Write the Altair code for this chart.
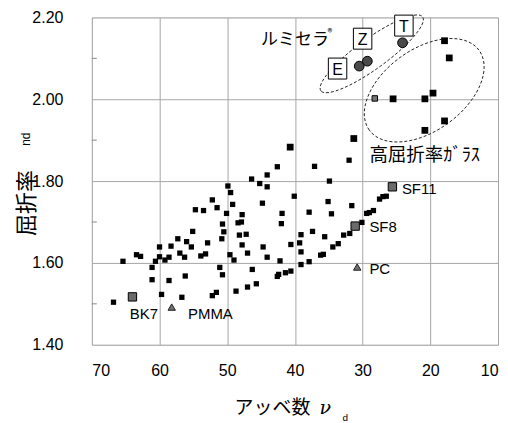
import altair as alt
import pandas as pd

# ---- data ----
# ordinary optical glasses (small black squares)
glass_x = [46.4, 44.1, 45.2, 44.1, 49.9, 49.5, 40.1, 52.2, 49.2, 44.8, 51.5, 54.7, 53.5, 50.1,
           47.8, 41.9, 48.4, 47.9, 50.7, 42.0, 50.5, 55.1, 48.2, 47.2, 57.3, 50.8, 56.0, 52.9,
           58.3, 60.0, 55.3, 47.8, 40.6, 57.0, 44.7, 47.0, 56.3, 53.9, 53.2, 63.4, 62.8, 60.0,
           58.6, 59.2, 49.6, 49.0, 44.1, 42.2, 65.4, 60.6, 61.1, 51.1, 46.3, 50.7, 56.2, 61.1,
           58.6, 42.4, 42.6, 41.4, 40.6, 45.7, 47.0, 48.7, 51.6, 52.2, 56.7, 59.7, 66.8,
           34.9, 35.1, 31.6, 37.9, 34.6, 39.1, 37.4, 35.6, 39.3, 39.1, 39.1, 37.9, 36.2, 35.8,
           34.4, 33.6, 32.8, 31.9, 30.1, 29.4, 29.0, 28.4, 27.5, 27.0, 26.5,
           32.0, 37.1, 42.6]
glass_y = [1.805, 1.815, 1.794, 1.786, 1.788, 1.772, 1.763, 1.754, 1.743, 1.746, 1.735, 1.730, 1.728, 1.721,
           1.718, 1.721, 1.698, 1.700, 1.695, 1.696, 1.676, 1.677, 1.668, 1.670, 1.659, 1.659, 1.652, 1.649,
           1.641, 1.639, 1.639, 1.644, 1.645, 1.624, 1.639, 1.624, 1.614, 1.617, 1.622, 1.620, 1.616, 1.615,
           1.614, 1.607, 1.620, 1.607, 1.614, 1.605, 1.604, 1.604, 1.589, 1.589, 1.584, 1.571, 1.568, 1.559,
           1.557, 1.572, 1.567, 1.576, 1.580, 1.549, 1.541, 1.531, 1.528, 1.520, 1.516, 1.523, 1.504,
           1.800, 1.750, 1.740, 1.724, 1.720, 1.669, 1.677, 1.664, 1.649, 1.627, 1.596, 1.603, 1.619, 1.621,
           1.639, 1.647, 1.668, 1.672, 1.699, 1.721, 1.723, 1.728, 1.756, 1.762, 1.763,
           1.851, 1.836, 1.835]

# high index glasses (larger black squares)
high_x = [40.7, 31.3, 25.5, 20.8, 19.6, 17.9, 17.2, 17.9, 20.8]
high_y = [1.883, 1.904, 2.001, 2.001, 2.015, 2.143, 2.101, 1.947, 1.924]

# small hatched glass inside the ellipse
hgray_x = [28.2]
hgray_y = [2.002]

# reference glasses (hatched squares)
ref_names = ["BK7", "SF8", "SF11"]
ref_x = [64.0, 31.1, 25.6]
ref_y = [1.517, 1.690, 1.786]
ref_label_x = [64.4, 29.0, 24.2]
ref_label_y = [1.475, 1.687, 1.780]

# plastics (triangles)
pl_names = ["PMMA", "PC"]
pl_x = [58.2, 30.8]
pl_y = [1.492, 1.590]
pl_label_x = [55.8, 29.0]
pl_label_y = [1.475, 1.585]

# Lumicera ceramics (circles) and their boxed labels
lum_names = ["E", "Z", "T"]
lum_x = [30.5, 29.3, 24.1]
lum_y = [2.081, 2.093, 2.138]
lum_box_x = [33.7, 30.0, 23.9]
lum_box_y = [2.075, 2.148, 2.180]

# annotation ellipses: centres
ell_x = [28.65, 20.9]
ell_y = [2.111, 2.022]

x_ticks = [70, 60, 50, 40, 30, 20, 10]
y_ticks = [1.40, 1.60, 1.80, 2.00, 2.20]
minor_y = [1.50, 1.70, 1.90, 2.10]

JP = "Noto Sans CJK JP"
LAT = "Liberation Sans"

xs = alt.Scale(domain=[70, 10], nice=False)
ys = alt.Scale(domain=[1.4, 2.2], nice=False)

x_axis = alt.Axis(values=x_ticks, grid=True, ticks=False, domain=False,
                  labelPadding=18, labelFontSize=16, labelFont=LAT, labelColor="black",
                  gridColor="#a6a6a6", gridWidth=1)
y_axis = alt.Axis(values=y_ticks, format=".2f", grid=True, ticks=False, domain=False,
                  labelPadding=29, labelFontSize=16, labelFont=LAT, labelColor="black",
                  gridColor="#a6a6a6", gridWidth=1)


def X(field="x"):
    return alt.X(f"{field}:Q", scale=xs, axis=x_axis, title=None)


def Y(field="y"):
    return alt.Y(f"{field}:Q", scale=ys, axis=y_axis, title=None)


minor = alt.Chart(pd.DataFrame({"y": minor_y})).mark_rule(color="#888", strokeWidth=1).encode(
    y=Y(), x=alt.value(0), x2=alt.value(5))

ellipse_path_lum = "M -1 0 A 1 0.24 0 1 1 1 0 A 1 0.24 0 1 1 -1 0 Z"
ellipse_path_gl = "M -1 0 A 1 0.6 0 1 1 1 0 A 1 0.6 0 1 1 -1 0 Z"

ell1 = alt.Chart(pd.DataFrame({"x": ell_x[:1], "y": ell_y[:1]})).mark_point(
    shape=ellipse_path_lum, size=126 * 126, angle=324, filled=False, color="#222",
    strokeWidth=0.9, strokeDash=[3, 2], opacity=1).encode(x=X(), y=Y())
ell2 = alt.Chart(pd.DataFrame({"x": ell_x[1:], "y": ell_y[1:]})).mark_point(
    shape=ellipse_path_gl, size=136 * 136, angle=324, filled=False, color="#222",
    strokeWidth=0.9, strokeDash=[3, 2], opacity=1).encode(x=X(), y=Y())

glass = alt.Chart(pd.DataFrame({"x": glass_x, "y": glass_y})).mark_point(
    shape="square", size=28, filled=True, color="black", opacity=1).encode(x=X(), y=Y())
high = alt.Chart(pd.DataFrame({"x": high_x, "y": high_y})).mark_point(
    shape="square", size=46, filled=True, color="black", opacity=1).encode(x=X(), y=Y())
hgray = alt.Chart(pd.DataFrame({"x": hgray_x, "y": hgray_y})).mark_point(
    shape="square", size=30, filled=True, fill="#777", stroke="black", strokeWidth=1,
    opacity=1).encode(x=X(), y=Y())

ref = alt.Chart(pd.DataFrame({"x": ref_x, "y": ref_y})).mark_point(
    shape="square", size=70, filled=True, fill="#6a6a6a", stroke="black", strokeWidth=1,
    opacity=1).encode(x=X(), y=Y())
ref_lab = alt.Chart(pd.DataFrame({"x": ref_label_x, "y": ref_label_y, "t": ref_names})).mark_text(
    align="left", baseline="middle", font=LAT, fontSize=15, color="black").encode(
    x=X(), y=Y(), text="t:N")

pl = alt.Chart(pd.DataFrame({"x": pl_x, "y": pl_y})).mark_point(
    shape="triangle-up", size=55, filled=True, fill="#707070", stroke="#222", strokeWidth=1,
    opacity=1).encode(x=X(), y=Y())
pl_lab = alt.Chart(pd.DataFrame({"x": pl_label_x, "y": pl_label_y, "t": pl_names})).mark_text(
    align="left", baseline="middle", font=LAT, fontSize=15, color="black").encode(
    x=X(), y=Y(), text="t:N")

lum = alt.Chart(pd.DataFrame({"x": lum_x, "y": lum_y})).mark_point(
    shape="circle", size=95, filled=True, fill="#4a4a4a", stroke="black", strokeWidth=1,
    opacity=1).encode(x=X(), y=Y())
lum_box = alt.Chart(pd.DataFrame({"x": lum_box_x, "y": lum_box_y})).mark_point(
    shape="M -0.88 -1 L 0.88 -1 L 0.88 1 L -0.88 1 Z", size=441, filled=True, fill="white",
    stroke="black", strokeWidth=1, opacity=1).encode(x=X(), y=Y())
lum_lab = alt.Chart(pd.DataFrame({"x": lum_box_x, "y": lum_box_y, "t": lum_names})).mark_text(
    align="center", baseline="middle", font=LAT, fontSize=16, color="black", dy=1).encode(
    x=X(), y=Y(), text="t:N")

notes = alt.Chart(pd.DataFrame({
    "x": [45.0, 35.2, 29.0],
    "y": [2.144, 2.163, 1.863],
    "t": ["ルミセラ", "®", "高屈折率ｶﾞﾗｽ"],
    "s": [17, 10, 18.5],
})).mark_text(align="left", baseline="middle", font=JP, color="black").encode(
    x=X(), y=Y(), text="t:N", size=alt.Size("s:Q", scale=None, legend=None))

one = pd.DataFrame({"a": [0]})
ytitle = alt.Chart(one).mark_text(text="屈折率", font=JP, fontSize=22, angle=270,
                                  align="center", baseline="middle", color="black").encode(
    x=alt.value(-65), y=alt.value(186))
ytitle_sub = alt.Chart(one).mark_text(text="nd", font=LAT, fontSize=12, angle=270,
                                      align="center", baseline="middle", color="black").encode(
    x=alt.value(-66), y=alt.value(122))
xtitle = alt.Chart(one).mark_text(text="アッベ数", font=JP, fontSize=19,
                                  align="center", baseline="middle", color="black").encode(
    x=alt.value(181), y=alt.value(391))
xtitle_nu = alt.Chart(one).mark_text(text="ν", font="DejaVu Serif", fontSize=19, fontStyle="italic",
                                     align="center", baseline="middle", color="black").encode(
    x=alt.value(234), y=alt.value(391))
xtitle_d = alt.Chart(one).mark_text(text="d", font=LAT, fontSize=10,
                                    align="center", baseline="middle", color="black").encode(
    x=alt.value(254), y=alt.value(401))

chart = alt.layer(
    minor, ell1, ell2, glass, high, hgray, ref, pl, lum, lum_box, lum_lab,
    ref_lab, pl_lab, notes, ytitle, ytitle_sub, xtitle, xtitle_nu, xtitle_d,
).properties(
    width=407, height=328,
    autosize=alt.AutoSizeParams(type="none"),
    padding={"left": 84, "top": 9, "right": 2, "bottom": 90},
).configure_view(stroke="#8c8c8c", strokeWidth=1).configure(background="white")

chart.save("out.html", embed_options={"renderer": "svg", "actions": False})
